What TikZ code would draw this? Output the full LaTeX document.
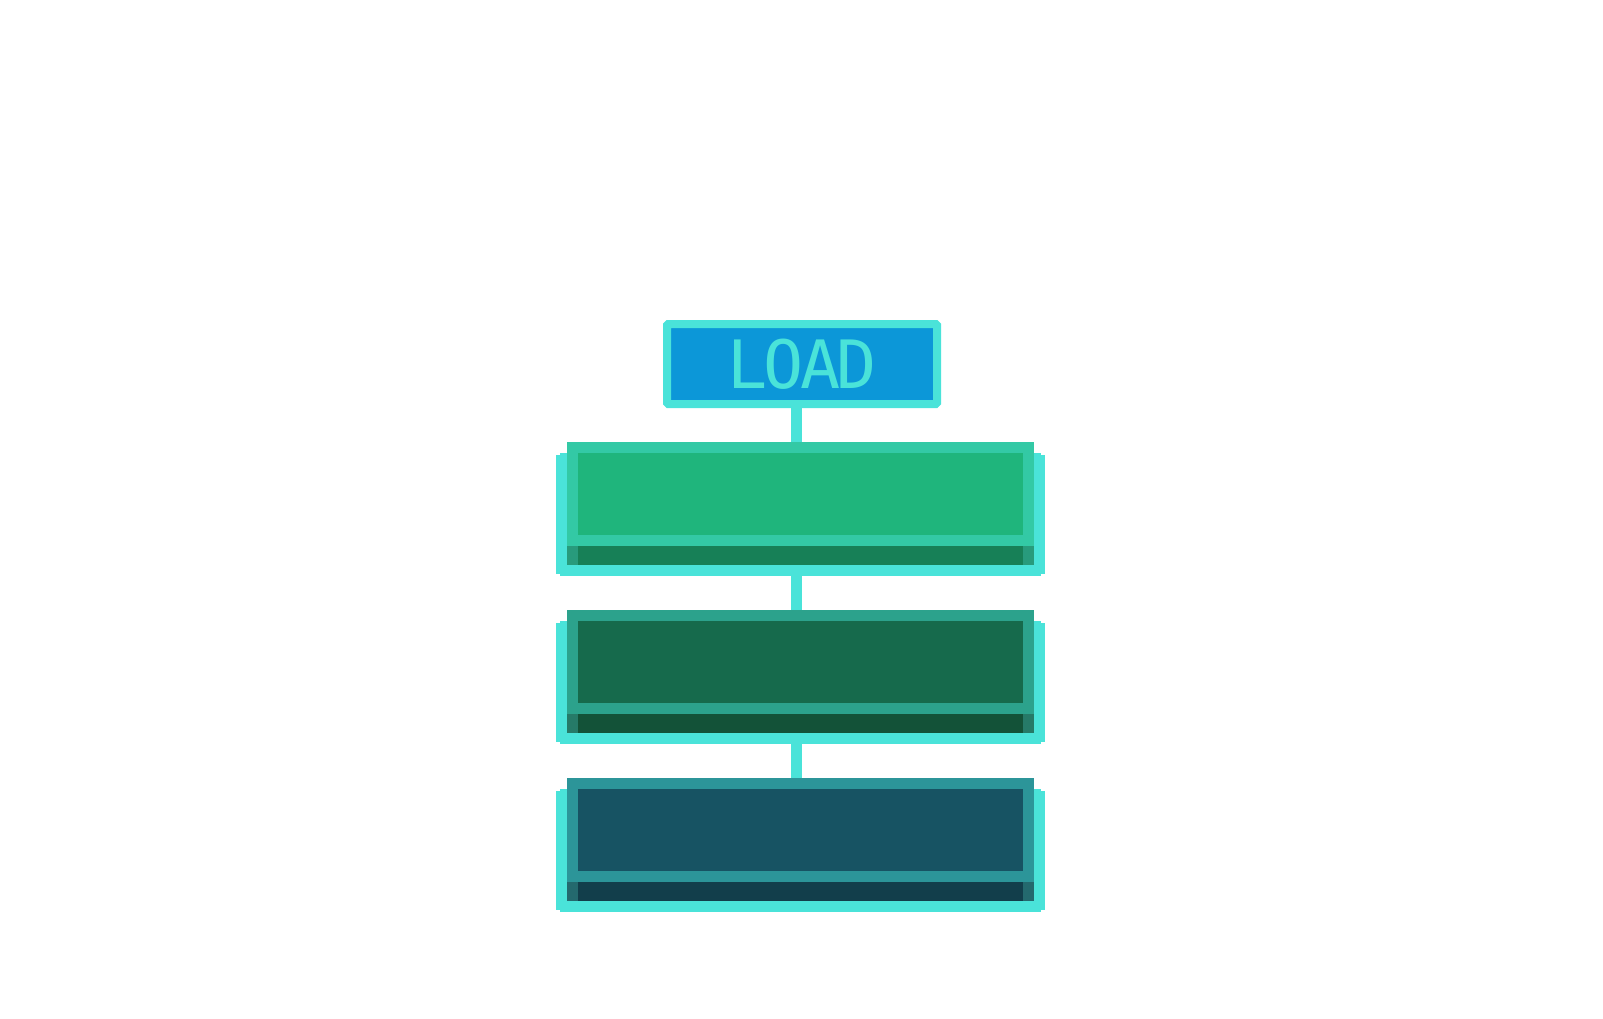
\documentclass[tikz,border=0pt]{standalone}
\usepackage{fontspec}
\usepackage{tikz}
\usetikzlibrary{calc, positioning, backgrounds}
\newfontfamily\pixfont[LetterSpace=-6]{DejaVu Sans Mono}

\definecolor{cyanline}{RGB}{74,227,217}
\definecolor{loadblue}{RGB}{12,151,216}
\definecolor{greenA}{RGB}{51,201,165}
\definecolor{greenAfill}{RGB}{31,181,124}
\definecolor{greenAdark}{RGB}{23,128,87}
\definecolor{greenAcorner}{RGB}{40,155,124}
\definecolor{greenB}{RGB}{44,162,140}
\definecolor{greenBfill}{RGB}{22,106,76}
\definecolor{greenBdark}{RGB}{19,82,56}
\definecolor{greenBcorner}{RGB}{38,122,104}
\definecolor{tealC}{RGB}{44,149,153}
\definecolor{tealCfill}{RGB}{23,83,99}
\definecolor{tealCdark}{RGB}{18,62,75}
\definecolor{tealCcorner}{RGB}{36,105,110}

\def\px{0.75pt}

% one stacked stage: #1 name, #2 top edge, #3 border, #4 fill, #5 base, #6 base corners
\newcommand{\stagebox}[6]{%
  \fill[cyanline] (556,#2+13) rectangle (1045,#2+132);
  \fill[cyanline] (560,#2+11) rectangle (1041,#2+134);
  \fill[#5] (567,#2) rectangle (1034,#2+123);
  \fill[#6] (567,#2+104) rectangle (578,#2+123);
  \fill[#6] (1023,#2+104) rectangle (1034,#2+123);
  \fill[#3] (567,#2) rectangle (1034,#2+104);
  \fill[#4] (578,#2+11) rectangle (1023,#2+93);
  \coordinate (#1) at (796.5,#2);
  \coordinate (#1-base) at (796.5,#2+134);
}

\begin{document}
\begin{tikzpicture}[x=\px, y=-\px,
    link/.style={cyanline, line width=11*\px},
    loadbox/.style={draw=cyanline, fill=loadblue, line width=8*\px, rounded corners=1pt,
      minimum width=270*\px, minimum height=80*\px, inner sep=0pt,
      text=cyanline, font=\pixfont\fontsize{50}{50}\selectfont}]
  \useasboundingbox (0,0) rectangle (1603,1018);

  % Stages
  \stagebox{stageA}{442}{greenA}{greenAfill}{greenAdark}{greenAcorner}
  \stagebox{stageB}{610}{greenB}{greenBfill}{greenBdark}{greenBcorner}
  \stagebox{stageC}{778}{tealC}{tealCfill}{tealCdark}{tealCcorner}

  % Load block
  \node[loadbox] (load) at (802,364) {LOAD};

  % Links
  \begin{scope}[on background layer]
    \draw[link] (stageA |- load.south) -- (stageA);
    \draw[link] (stageA-base) -- (stageB);
    \draw[link] (stageB-base) -- (stageC);
  \end{scope}
\end{tikzpicture}
\end{document}
